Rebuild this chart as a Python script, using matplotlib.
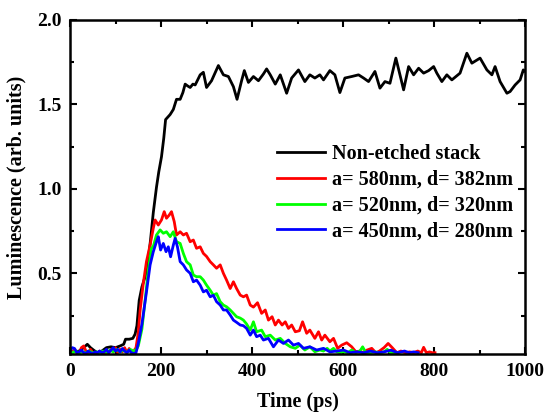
import matplotlib
matplotlib.use('Agg')
import matplotlib.pyplot as plt
from matplotlib.ticker import MultipleLocator

plt.rcParams['font.family'] = ['Liberation Serif', 'DejaVu Serif']
plt.rcParams['font.weight'] = 'bold'

# values
t_black = [0, 10, 20, 30, 38, 45, 52, 60, 70, 80,
           90, 100, 110, 118, 122, 130, 138, 143, 147, 152,
           158, 165, 172, 177, 183, 190, 195, 201, 206, 210,
           220, 227, 234, 242, 248, 253, 258, 264, 270, 275,
           286, 293, 300, 311, 326, 337, 348, 359, 367, 377,
           383, 392, 403, 414, 425, 432, 440, 451, 462, 476,
           487, 502, 516, 527, 538, 549, 557, 571, 582, 593,
           604, 619, 634, 645, 656, 670, 681, 692, 703, 716,
           725, 733, 744, 755, 766, 777, 788, 799, 806, 817,
           828, 839, 857, 872, 883, 901, 916, 927, 934, 945,
           960, 967, 978, 989, 996, 1000]
black = [0.04, 0.035, 0.04, 0.06, 0.08, 0.06, 0.045, 0.03, 0.04, 0.06,
         0.065, 0.06, 0.07, 0.08, 0.11, 0.11, 0.115, 0.14, 0.19, 0.34,
         0.42, 0.48, 0.58, 0.70, 0.86, 1.01, 1.10, 1.19, 1.30, 1.41,
         1.44, 1.47, 1.53, 1.53, 1.57, 1.62, 1.61, 1.60, 1.62, 1.615,
         1.675, 1.69, 1.60, 1.64, 1.73, 1.675, 1.665, 1.605, 1.53, 1.64,
         1.70, 1.63, 1.665, 1.64, 1.68, 1.71, 1.675, 1.62, 1.675, 1.566,
         1.656, 1.704, 1.635, 1.675, 1.656, 1.675, 1.645, 1.70, 1.675, 1.57,
         1.656, 1.665, 1.675, 1.656, 1.635, 1.695, 1.596, 1.635, 1.625, 1.774,
         1.675, 1.586, 1.724, 1.675, 1.714, 1.685, 1.70, 1.724, 1.685, 1.635,
         1.675, 1.645, 1.685, 1.803, 1.744, 1.774, 1.704, 1.675, 1.724, 1.635,
         1.566, 1.576, 1.615, 1.645, 1.704, 1.695]

t_red = [5, 10, 15, 20, 25, 30, 35, 40, 45, 50,
         55, 60, 65, 70, 75, 80, 85, 90, 95, 100,
         105, 110, 115, 120, 125, 130, 135, 140, 145, 150,
         154, 161, 168, 176, 183, 187, 194, 201, 207, 212,
         218, 223, 229, 234, 242, 249, 256, 264, 271, 278,
         286, 293, 300, 308, 315, 322, 330, 337, 344, 352,
         359, 366, 374, 381, 388, 396, 403, 412, 421, 429,
         436, 444, 451, 458, 466, 473, 480, 487, 495, 504,
         511, 520, 527, 538, 546, 553, 560, 571, 579, 588,
         597, 608, 619, 628, 637, 645, 652, 663, 672, 680,
         690, 699, 708, 718, 727, 737, 746, 755, 764, 772,
         777, 783, 790, 796, 802]
red = [0.03, 0.05, 0.03, 0.025, 0.06, 0.07, 0.04, 0.03, 0.05, 0.03,
       0.02, 0.025, 0.04, 0.03, 0.025, 0.045, 0.03, 0.05, 0.035, 0.06,
       0.03, 0.05, 0.035, 0.06, 0.03, 0.055, 0.03, 0.04, 0.06, 0.15,
       0.28, 0.44, 0.57, 0.668, 0.767, 0.816, 0.786, 0.816, 0.865, 0.826,
       0.845, 0.865, 0.806, 0.727, 0.746, 0.727, 0.737, 0.687, 0.697, 0.648,
       0.657, 0.618, 0.60, 0.569, 0.55, 0.53, 0.55, 0.50, 0.46, 0.41,
       0.45, 0.41, 0.371, 0.361, 0.371, 0.312, 0.30, 0.326, 0.263, 0.283,
       0.223, 0.243, 0.194, 0.223, 0.194, 0.213, 0.174, 0.194, 0.154, 0.16,
       0.213, 0.145, 0.164, 0.115, 0.154, 0.105, 0.134, 0.095, 0.115, 0.056,
       0.075, 0.089, 0.065, 0.036, 0.04, 0.03, 0.045, 0.056, 0.03, 0.04,
       0.06, 0.085, 0.06, 0.03, 0.04, 0.03, 0.035, 0.03, 0.04, 0.03,
       0.062, 0.03, 0.035, 0.03, 0.03]

t_green = [5, 12, 20, 28, 35, 42, 50, 58, 65, 72,
           80, 88, 95, 102, 110, 118, 125, 132, 140, 146,
           150, 158, 165, 172, 179, 183, 190, 198, 205, 212,
           220, 227, 234, 242, 249, 256, 264, 271, 278, 286,
           293, 300, 308, 315, 322, 330, 337, 344, 352, 359,
           366, 374, 381, 388, 396, 403, 410, 421, 429, 440,
           451, 462, 473, 484, 495, 505, 516, 527, 538, 549,
           557, 565, 571, 579, 586, 593, 601, 610, 619, 628,
           637, 643, 650, 659, 670, 681, 690, 697, 704, 712,
           720]
green = [0.03, 0.04, 0.03, 0.035, 0.03, 0.04, 0.03, 0.035, 0.03, 0.04,
         0.03, 0.045, 0.035, 0.05, 0.035, 0.045, 0.03, 0.05, 0.04, 0.05,
         0.07, 0.17, 0.34, 0.52, 0.648, 0.66, 0.727, 0.757, 0.737, 0.746,
         0.717, 0.746, 0.687, 0.677, 0.618, 0.569, 0.55, 0.49, 0.48, 0.48,
         0.46, 0.43, 0.40, 0.371, 0.38, 0.332, 0.312, 0.302, 0.283, 0.263,
         0.243, 0.235, 0.223, 0.20, 0.164, 0.213, 0.154, 0.164, 0.125, 0.134,
         0.105, 0.115, 0.085, 0.065, 0.056, 0.075, 0.046, 0.065, 0.036, 0.046,
         0.04, 0.056, 0.04, 0.056, 0.036, 0.03, 0.035, 0.03, 0.046, 0.03,
         0.04, 0.065, 0.03, 0.03, 0.035, 0.03, 0.035, 0.05, 0.03, 0.03,
         0.03]

t_blue = [0, 5, 10, 15, 20, 25, 30, 35, 40, 45,
          50, 55, 60, 65, 70, 75, 80, 85, 90, 95,
          100, 105, 110, 115, 120, 125, 130, 135, 140, 145,
          150, 158, 168, 176, 183, 190, 194, 199, 205, 211,
          216, 221, 227, 231, 236, 242, 249, 256, 264, 271,
          278, 286, 293, 300, 308, 315, 322, 330, 337, 344,
          352, 359, 366, 374, 381, 388, 396, 403, 410, 418,
          425, 436, 447, 458, 469, 480, 491, 502, 513, 527,
          542, 557, 571, 586, 601, 615, 630, 645, 660, 675,
          690, 705, 720, 735, 745, 755, 765]
blue = [0.04, 0.06, 0.055, 0.03, 0.035, 0.045, 0.03, 0.025, 0.04, 0.03,
        0.025, 0.035, 0.03, 0.04, 0.03, 0.035, 0.05, 0.03, 0.045, 0.06,
        0.04, 0.05, 0.035, 0.055, 0.04, 0.03, 0.045, 0.03, 0.025, 0.03,
        0.085, 0.20, 0.39, 0.55, 0.628, 0.687, 0.717, 0.638, 0.677, 0.628,
        0.657, 0.598, 0.667, 0.707, 0.657, 0.569, 0.55, 0.52, 0.50, 0.45,
        0.46, 0.43, 0.39, 0.40, 0.361, 0.37, 0.332, 0.312, 0.283, 0.283,
        0.253, 0.223, 0.21, 0.194, 0.19, 0.174, 0.134, 0.164, 0.125, 0.134,
        0.105, 0.115, 0.065, 0.105, 0.085, 0.105, 0.075, 0.085, 0.056, 0.065,
        0.046, 0.056, 0.035, 0.04, 0.046, 0.03, 0.035, 0.03, 0.04, 0.03,
        0.035, 0.045, 0.03, 0.04, 0.03, 0.035, 0.03]

labels = ['Non-etched stack', 'a= 580nm, d= 382nm',
          'a= 520nm, d= 320nm', 'a= 450nm, d= 280nm']
colors = ['black', '#ff0000', '#00ff00', '#0000ff']

fig = plt.figure(figsize=(5.47, 4.15), dpi=100)
ax = fig.add_axes([0.128, 0.146, 0.832, 0.806])

series = [(t_black, black), (t_red, red), (t_green, green), (t_blue, blue)]
for (t, v), lab, c in zip(series, labels, colors):
    ax.plot(t, v, color=c, lw=2.0, label=lab)

ax.set_xlim(0, 1000)
ax.set_ylim(0.02, 2.0)
ax.xaxis.set_major_locator(MultipleLocator(200))
ax.xaxis.set_minor_locator(MultipleLocator(100))
ax.yaxis.set_major_locator(MultipleLocator(0.5))
ax.yaxis.set_minor_locator(MultipleLocator(0.25))
ax.set_yticks([0.5, 1.0, 1.5, 2.0])

for s in ax.spines.values():
    s.set_linewidth(1.8)
ax.tick_params(which='both', direction='in', top=True, right=True, width=1.5,
               labelsize=14)
ax.tick_params(which='major', length=5, pad=6)
ax.tick_params(which='minor', length=3)

ax.set_xlabel('Time (ps)', fontsize=14.5, fontweight='bold', labelpad=9)
ax.set_ylabel('Luminescence (arb. units)', fontsize=14.5, fontweight='bold', labelpad=8)

leg = ax.legend(loc='upper left', bbox_to_anchor=(0.455, 0.628), frameon=False,
                fontsize=14.5, handlelength=2.4, handletextpad=0.35,
                labelspacing=0.28, borderaxespad=0, borderpad=0)
for line in leg.get_lines():
    line.set_linewidth(2.0)

fig.savefig('out.png', dpi=100)
